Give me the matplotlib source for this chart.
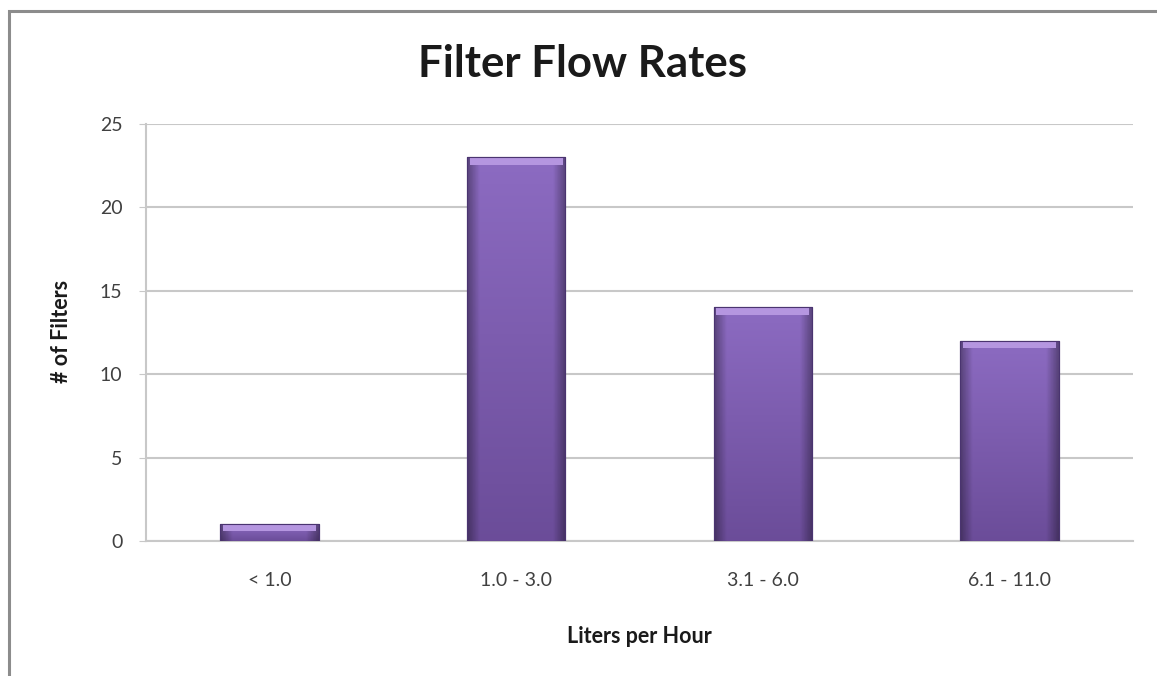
import numpy as np
import matplotlib.pyplot as plt
from matplotlib.patches import Rectangle

# Données
categories = ["< 1.0", "1.0 - 3.0", "3.1 - 6.0", "6.1 - 11.0"]
counts = [1, 23, 14, 12]
yticks = [0, 5, 10, 15, 20, 25]

fig = plt.figure(figsize=(11.57, 6.76), dpi=100)
plt.rcParams['font.family'] = ['Lato', 'DejaVu Sans']

# cadre du graphique (bord gris en haut et à gauche)
fig.add_artist(Rectangle((9/1157, -0.05), 1.2, 1 - 11/676 + 0.05, transform=fig.transFigure,
                         fill=False, edgecolor='#8c8c8c', linewidth=2.2))

ax = fig.add_axes([146/1157, 1 - 541/676, (1133-146)/1157, (541-124)/676])
x = np.arange(len(categories))
bars = ax.bar(x, counts, width=0.4, color='#7a5aaa', edgecolor='#4a3470', linewidth=0.8, zorder=3)

# dégradé sur chaque barre
grad_v = np.linspace(0, 1, 256).reshape(-1, 1)
grad_h = np.linspace(0, 1, 64).reshape(1, -1)
edge = 1 - 0.35 * (1 - np.clip(np.minimum(grad_h, 1 - grad_h) * 8, 0, 1))
top = np.array([0.55, 0.42, 0.76])
bottom = np.array([0.42, 0.30, 0.60])
img = (bottom[None, None, :] * (1 - grad_v[..., None]) + top[None, None, :] * grad_v[..., None])
img = img * edge[..., None]
for b in bars:
    x0, y0 = b.get_x(), b.get_y()
    w, h = b.get_width(), b.get_height()
    im = ax.imshow(img, extent=[x0, x0 + w, y0, y0 + h], origin='lower',
                   aspect='auto', zorder=3.5)
    im.set_clip_path(b)
    # biseau clair en haut
    bev = min(0.45, h * 0.4)
    ax.add_patch(Rectangle((x0 + w*0.03, y0 + h - bev), w*0.94, bev, facecolor='#b596e0',
                           edgecolor='none', zorder=3.8))
    ax.add_patch(Rectangle((x0, y0), w, h, fill=False, edgecolor='#4a3470', linewidth=0.8, zorder=4))

ax.set_xlim(-0.5, len(categories) - 0.5)
ax.set_ylim(0, 25)
ax.set_yticks(yticks)
ax.set_xticks(x)
ax.set_xticklabels(categories, fontsize=14, color='#404040')
ax.tick_params(axis='y', labelsize=14, labelcolor='#404040', length=5, color='#c8c8c8', pad=12)
ax.tick_params(axis='x', length=0, pad=22)
ax.grid(axis='y', color='#c8c8c8', linewidth=1.5, zorder=0)
for s in ['top', 'right']:
    ax.spines[s].set_visible(False)
ax.spines['left'].set_color('#c8c8c8')
ax.spines['bottom'].set_color('#c8c8c8')
ax.spines['left'].set_linewidth(1.5)
ax.spines['bottom'].set_linewidth(1.5)

fig.text(583/1157, 1 - 77/676, "Filter Flow Rates", ha='center', va='baseline',
         fontsize=31.5, fontweight='bold', color='#1a1a1a')
fig.text(62/1157, 1 - 331/676, "# of Filters", ha='center', va='center', rotation=90,
         fontsize=15.5, fontweight='bold', color='#1a1a1a')
fig.text(639/1157, 1 - 643/676, "Liters per Hour", ha='center', va='baseline',
         fontsize=15.5, fontweight='bold', color='#1a1a1a')

fig.savefig("out.png", dpi=100, facecolor='white')
